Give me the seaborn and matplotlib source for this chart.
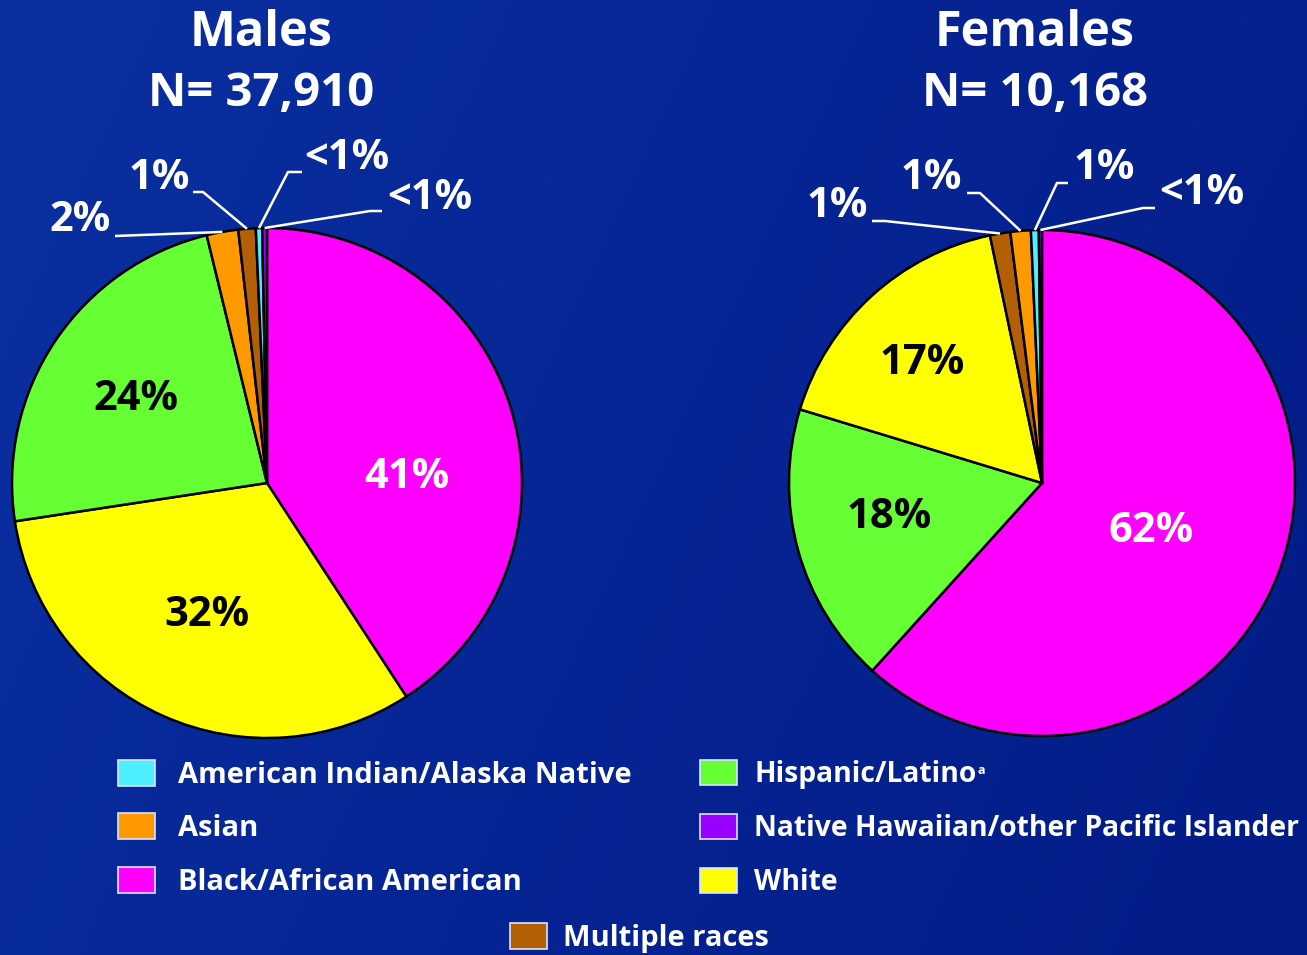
import numpy as np
import matplotlib
matplotlib.use("Agg")
import matplotlib.pyplot as plt
from matplotlib.patches import Patch
from matplotlib.colors import LinearSegmentedColormap
import seaborn as sns

sns.set_theme(style="white")
plt.rcParams["font.family"] = ["Open Sans", "DejaVu Sans"]
plt.rcParams["font.weight"] = "bold"

W, H = 1307, 955

# ── data ──────────────────────────────────────────────────────────────────────
race_colors = {
    "American Indian/Alaska Native": "#4DEEFF",
    "Asian": "#FF9900",
    "Black/African American": "#FF00FF",
    "Hispanic/Latino": "#66FF33",
    "Native Hawaiian/other Pacific Islander": "#9900FF",
    "White": "#FFFF00",
    "Multiple races": "#B35F06",
}

male_races = ["Black/African American", "White", "Hispanic/Latino", "Asian",
              "Multiple races", "American Indian/Alaska Native",
              "Native Hawaiian/other Pacific Islander"]
male_values = [40.8, 31.8, 23.6, 2.0, 1.1, 0.4, 0.3]
male_labels = ["41%", "32%", "24%", "2%", "1%", "<1%", "<1%"]

female_races = ["Black/African American", "Hispanic/Latino", "White",
                "Multiple races", "Asian", "American Indian/Alaska Native",
                "Native Hawaiian/other Pacific Islander"]
female_values = [61.7, 18.0, 17.0, 1.3, 1.3, 0.5, 0.2]
female_labels = ["62%", "18%", "17%", "1%", "1%", "1%", "<1%"]

male_title = ["Males", "N= 37,910"]
female_title = ["Females", "N= 10,168"]

# ── layout (pixels in the 1307x955 canvas) ────────────────────────────────────
pies = [
    dict(title=male_title, races=male_races, values=male_values, labels=male_labels,
         cx=267, cy=483, r=255, tx=261,
         inner={"Black/African American": (407, 478, "white"),
                "White": (207, 615, "black"),
                "Hispanic/Latino": (136, 400, "black")},
         outer={"Asian": ((111, 221), "right", [(115, 236)]),
                "Multiple races": ((190, 179), "right", [(193, 192), (203, 192)]),
                "American Indian/Alaska Native": ((304, 159), "left", [(302, 172), (288, 172)]),
                "Native Hawaiian/other Pacific Islander": ((387, 199), "left", [(382, 211), (370, 211)])}),
    dict(title=female_title, races=female_races, values=female_values, labels=female_labels,
         cx=1042, cy=483, r=253, tx=1035,
         inner={"Black/African American": (1151, 531, "white"),
                "Hispanic/Latino": (889, 518, "black"),
                "White": (922, 364, "black")},
         outer={"Multiple races": ((868, 207), "right", [(872, 221), (885, 221)]),
                "Asian": ((962, 179), "right", [(967, 193), (980, 193)]),
                "American Indian/Alaska Native": ((1074, 169), "left", [(1068, 183), (1057, 183)]),
                "Native Hawaiian/other Pacific Islander": ((1159, 194), "left", [(1155, 208), (1143, 208)])}),
]

fig = plt.figure(figsize=(W / 100, H / 100), dpi=100)

# background gradient
bg = fig.add_axes([0, 0, 1, 1], zorder=-10)
xx, yy = np.meshgrid(np.linspace(0, 1, 300), np.linspace(0, 1, 220))
grad = 0.75 * xx + 0.25 * yy
cmap_bg = LinearSegmentedColormap.from_list("bg", ["#0A30A0", "#062594", "#021C86"])
bg.imshow(grad, cmap=cmap_bg, aspect="auto", extent=[0, 1, 0, 1], origin="upper")
bg.axis("off")

for p in pies:
    cx, cy, r = p["cx"], p["cy"], p["r"]
    ax = fig.add_axes([(cx - r) / W, (H - cy - r) / H, 2 * r / W, 2 * r / H])
    wedges, _ = ax.pie(p["values"], colors=[race_colors[k] for k in p["races"]],
                       startangle=90, counterclock=False, radius=1,
                       wedgeprops=dict(edgecolor="black", linewidth=1.8))
    for w in wedges:
        w.set_clip_on(False)
    ax.set_xlim(-1, 1)
    ax.set_ylim(-1, 1)
    ax.set_aspect("auto")
    ax.axis("off")

    def px(pt):
        return ((pt[0] - cx) / r, (cy - pt[1]) / r)

    for race, w, lab in zip(p["races"], wedges, p["labels"]):
        if race in p["inner"]:
            x, y, c = p["inner"][race]
            dx, dy = px((x, y))
            ax.text(dx, dy, lab, ha="center", va="center", color=c,
                    fontsize=30, fontweight="bold")
        elif race in p["outer"]:
            tpos, ha, pts = p["outer"][race]
            mid = np.deg2rad((w.theta1 + w.theta2) / 2)
            path = [px(q) for q in pts] + [(np.cos(mid), np.sin(mid))]
            ax.plot([q[0] for q in path], [q[1] for q in path], color="white",
                    lw=1.8, clip_on=False, solid_capstyle="butt")
            tx, ty = px(tpos)
            ax.text(tx, ty, lab, ha=ha, va="center", color="white",
                    fontsize=30, fontweight="bold", clip_on=False)

    fig.text(p["tx"] / W, 1 - 34 / H, p["title"][0], ha="center", va="center",
             color="white", fontsize=35, fontweight="bold")
    fig.text(p["tx"] / W, 1 - 94 / H, p["title"][1], ha="center", va="center",
             color="white", fontsize=34, fontweight="bold")


# ── legend ────────────────────────────────────────────────────────────────────
def handles(names):
    return [Patch(facecolor=race_colors[n], edgecolor="#DDE4FF", linewidth=1.2,
                  label=n) for n in names]


# names, x, y (px), text pad, font size, label spacing, handle length
legend_cols = [
    (["American Indian/Alaska Native", "Asian", "Black/African American"], 118, 760, 0.8, 21, 0.8, 1.27),
    (["Hispanic/Latino", "Native Hawaiian/other Pacific Islander", "White"], 700, 760, 0.62, 20.3, 0.88, 1.31),
    (["Multiple races"], 510, 923, 0.55, 21, 0.8, 1.27),
]
legends = []
for names, lx, ly, pad, fs, ls, hl in legend_cols:
    leg = fig.legend(handles=handles(names), loc="upper left",
                     bbox_to_anchor=(lx / W, 1 - ly / H), frameon=False,
                     borderpad=0, borderaxespad=0, handlelength=hl,
                     handleheight=1.0, handletextpad=pad, labelspacing=ls,
                     prop=dict(size=fs, weight="bold"), labelcolor="white")
    legends.append(leg)

# footnote marker after "Hispanic/Latino"
fig.canvas.draw()
bb = legends[1].get_texts()[0].get_window_extent()
fig.text((bb.x1 + 1) / W, (bb.y1 - 4) / H, "a", ha="left", va="top",
         color="white", fontsize=9, fontweight="bold")

fig.savefig("out.png", dpi=100, facecolor="#062594")
